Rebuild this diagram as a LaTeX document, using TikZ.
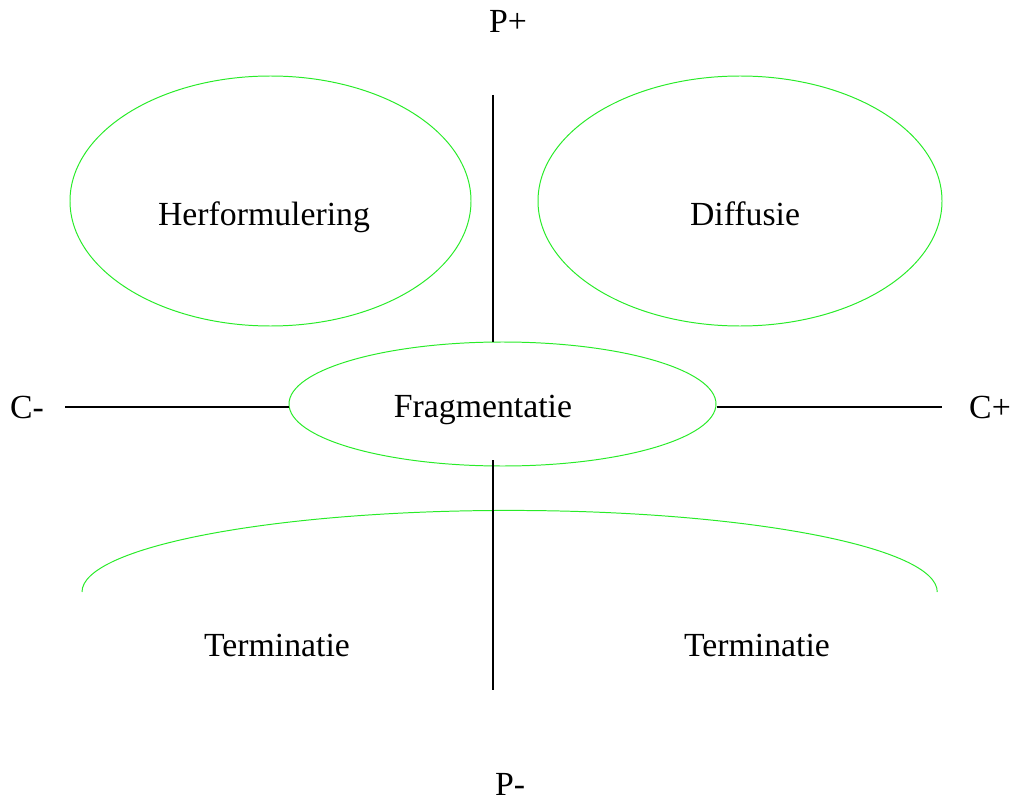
\documentclass[tikz,border=0pt]{standalone}
\usepackage{fontspec}
\setmainfont{Liberation Serif}
\usetikzlibrary{shapes.geometric}
\definecolor{ell}{RGB}{40,235,40}
\tikzset{
  bubble/.style={draw=ell, line width=0.7pt, ellipse, inner sep=0pt},
  axis/.style={draw=black, line width=1.4pt},
  lbl/.style={font=\fontsize{24}{28}\selectfont, anchor=base, inner sep=0pt},
}
\begin{document}
\begin{tikzpicture}[x=0.025cm, y=-0.025cm]
\useasboundingbox (0,0) rectangle (1013,801);
% ellipses
\node[bubble, minimum width=401*0.025cm, minimum height=250*0.025cm] (herf) at (270.5,201) {};
\node[bubble, minimum width=404*0.025cm, minimum height=250*0.025cm] (diff) at (740,201) {};
\node[bubble, minimum width=427*0.025cm, minimum height=124*0.025cm] (frag) at (502.5,404) {};
% bottom arc
\draw[draw=ell, line width=0.7pt] (82,592) arc[start angle=180, end angle=0, x radius=304.1pt, y radius=58pt];
% axes
\coordinate (top) at (493,95);
\coordinate (bot) at (493,690);
\coordinate (lft) at (65,407);
\coordinate (rgt) at (942,407);
\draw[axis] (top) -- (top |- frag.north);
\draw[axis] (493,460) -- (bot);
\draw[axis] (lft) -- (lft -| frag.west);
\draw[axis] (rgt -| frag.east) -- (rgt);
% labels
\node[lbl] (tHerf) at (264,226) {Herformulering};
\node[lbl] (tDiff) at (745,226) {Diffusie};
\node[lbl] (tFrag) at (483,417) {Fragmentatie};
\node[lbl] (tTerm1) at (277,656) {Terminatie};
\node[lbl] (tTerm2) at (757,656) {Terminatie};
\node[lbl] (pplus) at (508,33) {P+};
\node[lbl] (pmin) at (510,795) {P-};
\node[lbl] (cmin) at (27,418) {C-};
\node[lbl] (cplus) at (990,418) {C+};
\end{tikzpicture}
\end{document}
